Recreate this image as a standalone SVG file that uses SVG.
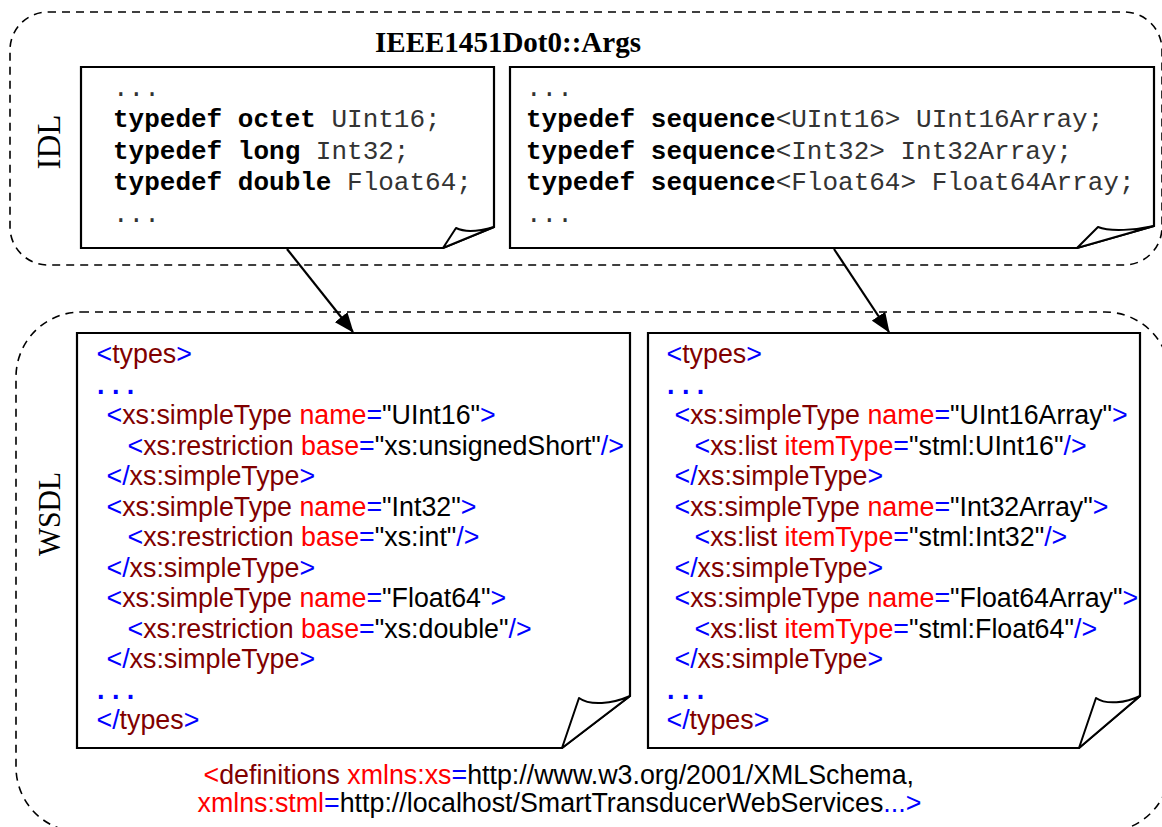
<svg xmlns="http://www.w3.org/2000/svg" width="1162" height="827" viewBox="0 0 1162 827" xml:space="preserve">
<style>
.cont{fill:none;stroke:#000;stroke-width:1.6;stroke-dasharray:8 6}
.box{fill:#fff;stroke:#000;stroke-width:2.2;stroke-linejoin:miter}
.flap{fill:#fff;stroke:#000;stroke-width:2;stroke-linejoin:round}
.mono{font-family:"Liberation Mono","Courier New",monospace;font-size:26px;fill:#333}
.b{font-weight:bold;fill:#000}
.x{font-family:"Liberation Sans",Arial,sans-serif;font-size:26.8px}
.bl{fill:#0000ff}
.tg{fill:#800000}
.at{fill:#ff0000}
.vl{fill:#000}
.dots{font-weight:bold;fill:#0000ff}
.lbl{font-family:"Liberation Serif","Times New Roman",serif;fill:#000}
.conn{stroke:#000;stroke-width:2.2;fill:none}
</style>
<defs>
<marker id="ah" markerUnits="userSpaceOnUse" markerWidth="20" markerHeight="16" refX="19" refY="8" orient="auto">
<path d="M0,0 L20,8 L0,16 Z" fill="#000"/>
</marker>
</defs>

<g id="idl-container">
<rect class="cont" x="10" y="12" width="1152" height="253" rx="38"/>
<text class="lbl" font-size="33" transform="translate(60,142) rotate(-90)" text-anchor="middle" textLength="55" lengthAdjust="spacingAndGlyphs">IDL</text>
<text class="lbl" font-size="28.5" font-weight="bold" x="375" y="52" textLength="266" lengthAdjust="spacingAndGlyphs">IEEE1451Dot0::Args</text>
</g>

<g id="wsdl-container">
<rect class="cont" x="16" y="312" width="1154" height="520" rx="65"/>
<text class="lbl" font-size="32" transform="translate(60,514) rotate(-90)" text-anchor="middle" textLength="84" lengthAdjust="spacingAndGlyphs">WSDL</text>
</g>

<g id="idl-basic">
<path class="box" d="M81,67 H494 V227 L443,248 H81 Z"/>
<path class="flap" d="M443,248 L456,228 C466,233 480,231 494,227 Z"/>
<text class="mono" x="113" y="96">...</text>
<text class="mono" x="113" y="127"><tspan class="b">typedef octet</tspan> UInt16;</text>
<text class="mono" x="113" y="159"><tspan class="b">typedef long</tspan> Int32;</text>
<text class="mono" x="113" y="190"><tspan class="b">typedef double</tspan> Float64;</text>
<text class="mono" x="113" y="222">...</text>
</g>

<g id="idl-sequence">
<path class="box" d="M510,67 H1154 V226 L1077,248 H510 Z"/>
<path class="flap" d="M1077,248 L1098,227 C1110,232 1136,230 1154,226 Z"/>
<text class="mono" x="526" y="96">...</text>
<text class="mono" x="526" y="127"><tspan class="b">typedef sequence</tspan>&lt;UInt16&gt; UInt16Array;</text>
<text class="mono" x="526" y="159"><tspan class="b">typedef sequence</tspan>&lt;Int32&gt; Int32Array;</text>
<text class="mono" x="526" y="190"><tspan class="b">typedef sequence</tspan>&lt;Float64&gt; Float64Array;</text>
<text class="mono" x="526" y="222">...</text>
</g>

<g id="wsdl-restriction">
<path class="box" d="M77,333 H630 V696 L562,748 H77 Z"/>
<path class="flap" d="M562,748 L579,698 C590,706 612,704 630,696 Z"/>
<text class="x" x="96.5" y="363"><tspan class="bl">&lt;</tspan><tspan class="tg">types</tspan><tspan class="bl">&gt;</tspan></text>
<text class="x dots" x="97" y="393.5">. . .</text>
<text class="x" x="106.5" y="424"><tspan class="bl">&lt;</tspan><tspan class="tg">xs:simpleType </tspan><tspan class="at">name</tspan><tspan class="bl">=</tspan><tspan class="vl">"UInt16"</tspan><tspan class="bl">&gt;</tspan></text>
<text class="x" x="127.5" y="454.5"><tspan class="bl">&lt;</tspan><tspan class="tg">xs:restriction </tspan><tspan class="at">base</tspan><tspan class="bl">=</tspan><tspan class="vl">"xs:unsignedShort"</tspan><tspan class="bl">/&gt;</tspan></text>
<text class="x" x="106.5" y="485"><tspan class="bl">&lt;/</tspan><tspan class="tg">xs:simpleType</tspan><tspan class="bl">&gt;</tspan></text>
<text class="x" x="106.5" y="515.5"><tspan class="bl">&lt;</tspan><tspan class="tg">xs:simpleType </tspan><tspan class="at">name</tspan><tspan class="bl">=</tspan><tspan class="vl">"Int32"</tspan><tspan class="bl">&gt;</tspan></text>
<text class="x" x="127.5" y="546"><tspan class="bl">&lt;</tspan><tspan class="tg">xs:restriction </tspan><tspan class="at">base</tspan><tspan class="bl">=</tspan><tspan class="vl">"xs:int"</tspan><tspan class="bl">/&gt;</tspan></text>
<text class="x" x="106.5" y="576.5"><tspan class="bl">&lt;/</tspan><tspan class="tg">xs:simpleType</tspan><tspan class="bl">&gt;</tspan></text>
<text class="x" x="106.5" y="607"><tspan class="bl">&lt;</tspan><tspan class="tg">xs:simpleType </tspan><tspan class="at">name</tspan><tspan class="bl">=</tspan><tspan class="vl">"Float64"</tspan><tspan class="bl">&gt;</tspan></text>
<text class="x" x="127.5" y="637.5"><tspan class="bl">&lt;</tspan><tspan class="tg">xs:restriction </tspan><tspan class="at">base</tspan><tspan class="bl">=</tspan><tspan class="vl">"xs:double"</tspan><tspan class="bl">/&gt;</tspan></text>
<text class="x" x="106.5" y="668"><tspan class="bl">&lt;/</tspan><tspan class="tg">xs:simpleType</tspan><tspan class="bl">&gt;</tspan></text>
<text class="x dots" x="97" y="698.5">. . .</text>
<text class="x" x="96.5" y="729"><tspan class="bl">&lt;/</tspan><tspan class="tg">types</tspan><tspan class="bl">&gt;</tspan></text>
</g>

<g id="wsdl-list">
<path class="box" d="M648,333 H1140 V696 L1079,748 H648 Z"/>
<path class="flap" d="M1079,748 L1096,698 C1106,705 1126,703 1140,696 Z"/>
<text class="x" x="666.5" y="363"><tspan class="bl">&lt;</tspan><tspan class="tg">types</tspan><tspan class="bl">&gt;</tspan></text>
<text class="x dots" x="667" y="393.5">. . .</text>
<text class="x" x="674.5" y="424"><tspan class="bl">&lt;</tspan><tspan class="tg">xs:simpleType </tspan><tspan class="at">name</tspan><tspan class="bl">=</tspan><tspan class="vl">"UInt16Array"</tspan><tspan class="bl">&gt;</tspan></text>
<text class="x" x="694.5" y="454.5"><tspan class="bl">&lt;</tspan><tspan class="tg">xs:list </tspan><tspan class="at">itemType</tspan><tspan class="bl">=</tspan><tspan class="vl">"stml:UInt16"</tspan><tspan class="bl">/&gt;</tspan></text>
<text class="x" x="674.5" y="485"><tspan class="bl">&lt;/</tspan><tspan class="tg">xs:simpleType</tspan><tspan class="bl">&gt;</tspan></text>
<text class="x" x="674.5" y="515.5"><tspan class="bl">&lt;</tspan><tspan class="tg">xs:simpleType </tspan><tspan class="at">name</tspan><tspan class="bl">=</tspan><tspan class="vl">"Int32Array"</tspan><tspan class="bl">&gt;</tspan></text>
<text class="x" x="694.5" y="546"><tspan class="bl">&lt;</tspan><tspan class="tg">xs:list </tspan><tspan class="at">itemType</tspan><tspan class="bl">=</tspan><tspan class="vl">"stml:Int32"</tspan><tspan class="bl">/&gt;</tspan></text>
<text class="x" x="674.5" y="576.5"><tspan class="bl">&lt;/</tspan><tspan class="tg">xs:simpleType</tspan><tspan class="bl">&gt;</tspan></text>
<text class="x" x="674.5" y="607"><tspan class="bl">&lt;</tspan><tspan class="tg">xs:simpleType </tspan><tspan class="at">name</tspan><tspan class="bl">=</tspan><tspan class="vl">"Float64Array"</tspan><tspan class="bl">&gt;</tspan></text>
<text class="x" x="694.5" y="637.5"><tspan class="bl">&lt;</tspan><tspan class="tg">xs:list </tspan><tspan class="at">itemType</tspan><tspan class="bl">=</tspan><tspan class="vl">"stml:Float64"</tspan><tspan class="bl">/&gt;</tspan></text>
<text class="x" x="674.5" y="668"><tspan class="bl">&lt;/</tspan><tspan class="tg">xs:simpleType</tspan><tspan class="bl">&gt;</tspan></text>
<text class="x dots" x="667" y="698.5">. . .</text>
<text class="x" x="666.5" y="729"><tspan class="bl">&lt;/</tspan><tspan class="tg">types</tspan><tspan class="bl">&gt;</tspan></text>
</g>

<g id="definitions">
<text class="x" x="203.5" y="784"><tspan class="at">&lt;</tspan><tspan class="tg">definitions </tspan><tspan class="at">xmlns:xs</tspan><tspan class="bl">=</tspan><tspan class="vl">http://www.w3.org/2001/XMLSchema,</tspan></text>
<text class="x" x="197.5" y="812"><tspan class="at">xmlns:stml</tspan><tspan class="bl">=</tspan><tspan class="vl">http://localhost/SmartTransducerWebServices</tspan><tspan class="bl">...&gt;</tspan></text>
</g>

<g id="connectors">
<line class="conn" x1="287" y1="249" x2="353" y2="332" marker-end="url(#ah)"/>
<line class="conn" x1="834" y1="249" x2="889" y2="332" marker-end="url(#ah)"/>
</g>
</svg>
